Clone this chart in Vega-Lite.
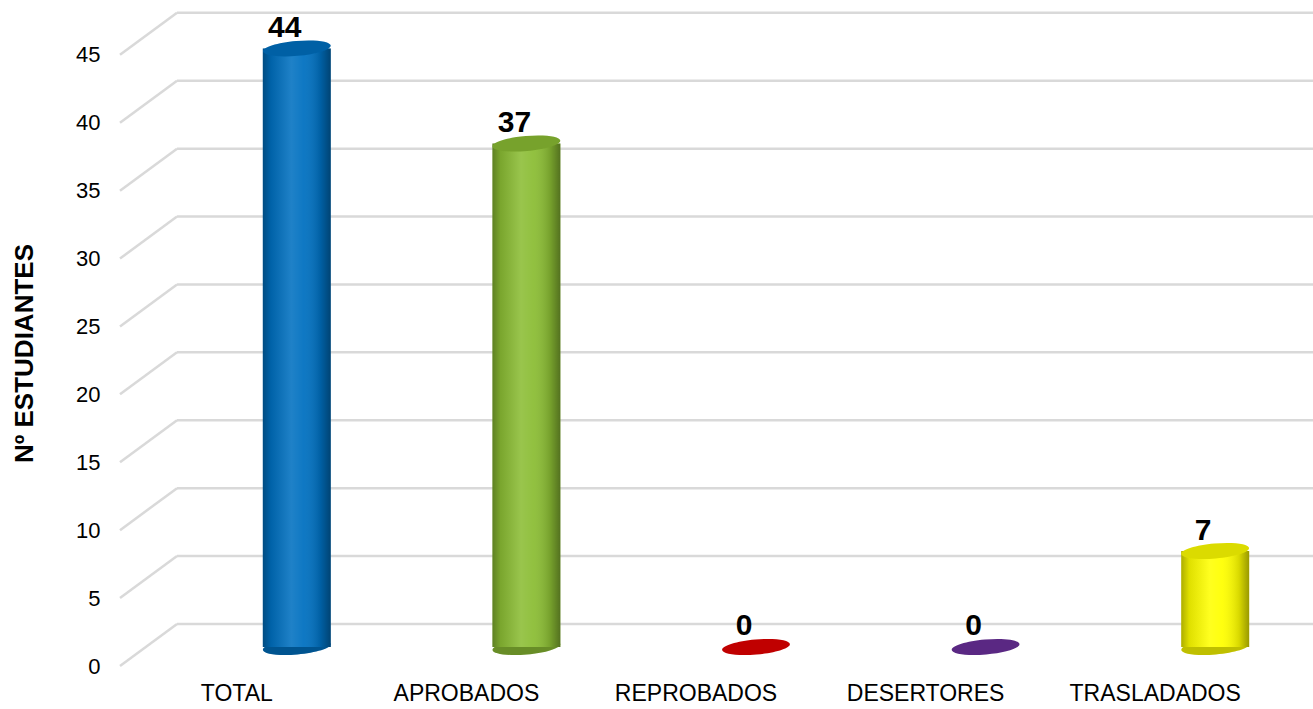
{
  "$schema": "https://vega.github.io/schema/vega-lite/v6.json",
  "width": 1193,
  "height": 656,
  "autosize": "none",
  "padding": {"left": 120, "top": 10, "right": 0, "bottom": 43},
  "background": "white",
  "config": {"view": {"stroke": null}, "font": "Liberation Sans"},
  "datasets": {
    "bars": [
      {"cat": "TOTAL", "n": 44},
      {"cat": "APROBADOS", "n": 37},
      {"cat": "REPROBADOS", "n": 0},
      {"cat": "DESERTORES", "n": 0},
      {"cat": "TRASLADADOS", "n": 7}
    ],
    "grid": [
      {"v": 0}, {"v": 5}, {"v": 10}, {"v": 15}, {"v": 20},
      {"v": 25}, {"v": 30}, {"v": 35}, {"v": 40}, {"v": 45}
    ]
  },
  "resolve": {"scale": {"x": "independent"}, "axis": {"x": "independent"}},
  "layer": [
    {
      "data": {"name": "grid"},
      "mark": {"type": "rule", "color": "#d9d9d9", "strokeWidth": 2.5, "y2Offset": -42},
      "encoding": {
        "x": {"datum": 0, "type": "quantitative", "scale": {"domain": [0, 1], "nice": false}, "axis": null},
        "x2": {"datum": 0.0478},
        "y": {"field": "v", "type": "quantitative", "scale": {"domain": [0, 48.3], "nice": false},
          "axis": {"values": [0, 5, 10, 15, 20, 25, 30, 35, 40, 45], "grid": false, "ticks": false, "domain": false,
            "labelFontSize": 22, "labelColor": "#000000", "labelPadding": 20, "labelFont": "Liberation Sans",
            "title": "Nº ESTUDIANTES", "titleFontSize": 26, "titleFontWeight": "bold", "titleColor": "#000000",
            "titleFont": "Liberation Sans", "titleX": -96, "titleY": 343, "titleAngle": 270, "titleAlign": "center", "titleBaseline": "middle"}},
        "y2": {"field": "v"}
      }
    },
    {
      "data": {"name": "grid"},
      "mark": {"type": "rule", "color": "#d9d9d9", "strokeWidth": 2.5, "yOffset": -42},
      "encoding": {
        "x": {"datum": 0.0478, "type": "quantitative", "scale": {"domain": [0, 1], "nice": false}, "axis": null},
        "x2": {"datum": 1},
        "y": {"field": "v", "type": "quantitative"}
      }
    },
    {
      "data": {"name": "bars"},
      "mark": {"type": "point", "shape": "M -1 0 A 1 0.22 0 1 0 1 0 A 1 0.22 0 1 0 -1 0 Z", "size": 4624, "filled": true, "opacity": 1, "xOffset": 60, "yOffset": -19, "angle": -5},
      "encoding": {
        "x": {"field": "cat", "type": "nominal", "sort": null, "scale": {"type": "band", "domain": ["TOTAL", "APROBADOS", "REPROBADOS", "DESERTORES", "TRASLADADOS"], "range": [2, 1150], "paddingInner": 0, "paddingOuter": 0},
          "axis": {"title": null, "domain": false, "ticks": false, "labelAngle": 0, "labelFontSize": 23, "labelColor": "#000000", "labelPadding": 16, "labelFont": "Liberation Sans"}},
        "y": {"datum": 0, "type": "quantitative"},
        "color": {"field": "cat", "type": "nominal", "legend": null,
          "scale": {"domain": ["TOTAL", "APROBADOS", "REPROBADOS", "DESERTORES", "TRASLADADOS"], "range": ["#0070c0", "#8bbd34", "#c00000", "#5a2883", "#ffff00"]}}
      }
    },
    {
      "data": {"name": "bars"},
      "transform": [{"filter": "datum.n > 0"}],
      "mark": {"type": "point", "shape": "M -1 0 A 1 0.22 0 1 0 1 0 A 1 0.22 0 1 0 -1 0 Z", "size": 4624, "filled": true, "opacity": 1, "color": "rgba(0,0,0,0.25)", "xOffset": 60, "yOffset": -19, "angle": -5},
      "encoding": {
        "x": {"field": "cat", "type": "nominal", "sort": null, "scale": {"type": "band", "domain": ["TOTAL", "APROBADOS", "REPROBADOS", "DESERTORES", "TRASLADADOS"], "range": [2, 1150], "paddingInner": 0, "paddingOuter": 0}, "axis": null},
        "y": {"datum": 0, "type": "quantitative"}
      }
    },
    {
      "data": {"name": "bars"},
      "transform": [{"filter": "datum.n > 0"}],
      "mark": {"type": "bar", "width": {"band": 0.296}, "xOffset": 60, "yOffset": -20, "y2Offset": -19},
      "encoding": {
        "x": {"field": "cat", "type": "nominal", "sort": null, "scale": {"type": "band", "domain": ["TOTAL", "APROBADOS", "REPROBADOS", "DESERTORES", "TRASLADADOS"], "range": [2, 1150], "paddingInner": 0, "paddingOuter": 0}, "axis": null},
        "y": {"field": "n", "type": "quantitative"},
        "y2": {"datum": 0},
        "color": {"field": "cat", "type": "nominal", "legend": null}
      }
    },
    {
      "data": {"name": "bars"},
      "transform": [{"filter": "datum.n > 0"}],
      "mark": {"type": "bar", "width": {"band": 0.296}, "xOffset": 60, "yOffset": -20, "y2Offset": -19,
        "fill": {"gradient": "linear", "x1": 0, "y1": 0, "x2": 1, "y2": 0,
          "stops": [
            {"offset": 0, "color": "rgba(0,0,0,0.32)"},
            {"offset": 0.12, "color": "rgba(0,0,0,0.12)"},
            {"offset": 0.42, "color": "rgba(255,255,255,0.12)"},
            {"offset": 0.6, "color": "rgba(255,255,255,0.06)"},
            {"offset": 0.85, "color": "rgba(0,0,0,0.15)"},
            {"offset": 1, "color": "rgba(0,0,0,0.4)"}
          ]}},
      "encoding": {
        "x": {"field": "cat", "type": "nominal", "sort": null, "scale": {"type": "band", "domain": ["TOTAL", "APROBADOS", "REPROBADOS", "DESERTORES", "TRASLADADOS"], "range": [2, 1150], "paddingInner": 0, "paddingOuter": 0}, "axis": null},
        "y": {"field": "n", "type": "quantitative"},
        "y2": {"datum": 0}
      }
    },
    {
      "data": {"name": "bars"},
      "transform": [{"filter": "datum.n > 0"}],
      "mark": {"type": "point", "shape": "M -1 0 A 1 0.22 0 1 0 1 0 A 1 0.22 0 1 0 -1 0 Z", "size": 4624, "filled": true, "opacity": 1, "xOffset": 60, "yOffset": -20, "angle": -5},
      "encoding": {
        "x": {"field": "cat", "type": "nominal", "sort": null, "scale": {"type": "band", "domain": ["TOTAL", "APROBADOS", "REPROBADOS", "DESERTORES", "TRASLADADOS"], "range": [2, 1150], "paddingInner": 0, "paddingOuter": 0}, "axis": null},
        "y": {"field": "n", "type": "quantitative"},
        "color": {"field": "cat", "type": "nominal", "legend": null}
      }
    },
    {
      "data": {"name": "bars"},
      "transform": [{"filter": "datum.n > 0"}],
      "mark": {"type": "point", "shape": "M -1 0 A 1 0.22 0 1 0 1 0 A 1 0.22 0 1 0 -1 0 Z", "size": 4624, "filled": true, "opacity": 1, "color": "rgba(0,0,0,0.14)", "xOffset": 60, "yOffset": -20, "angle": -5},
      "encoding": {
        "x": {"field": "cat", "type": "nominal", "sort": null, "scale": {"type": "band", "domain": ["TOTAL", "APROBADOS", "REPROBADOS", "DESERTORES", "TRASLADADOS"], "range": [2, 1150], "paddingInner": 0, "paddingOuter": 0}, "axis": null},
        "y": {"field": "n", "type": "quantitative"}
      }
    },
    {
      "data": {"name": "bars"},
      "mark": {"type": "text", "font": "Liberation Sans", "fontWeight": "bold", "fontSize": 30, "color": "#000000", "xOffset": 48, "dy": -31, "baseline": "alphabetic", "align": "center"},
      "encoding": {
        "x": {"field": "cat", "type": "nominal", "sort": null, "scale": {"type": "band", "domain": ["TOTAL", "APROBADOS", "REPROBADOS", "DESERTORES", "TRASLADADOS"], "range": [2, 1150], "paddingInner": 0, "paddingOuter": 0}, "axis": null},
        "y": {"field": "n", "type": "quantitative"},
        "text": {"field": "n", "type": "quantitative"}
      }
    }
  ]
}
